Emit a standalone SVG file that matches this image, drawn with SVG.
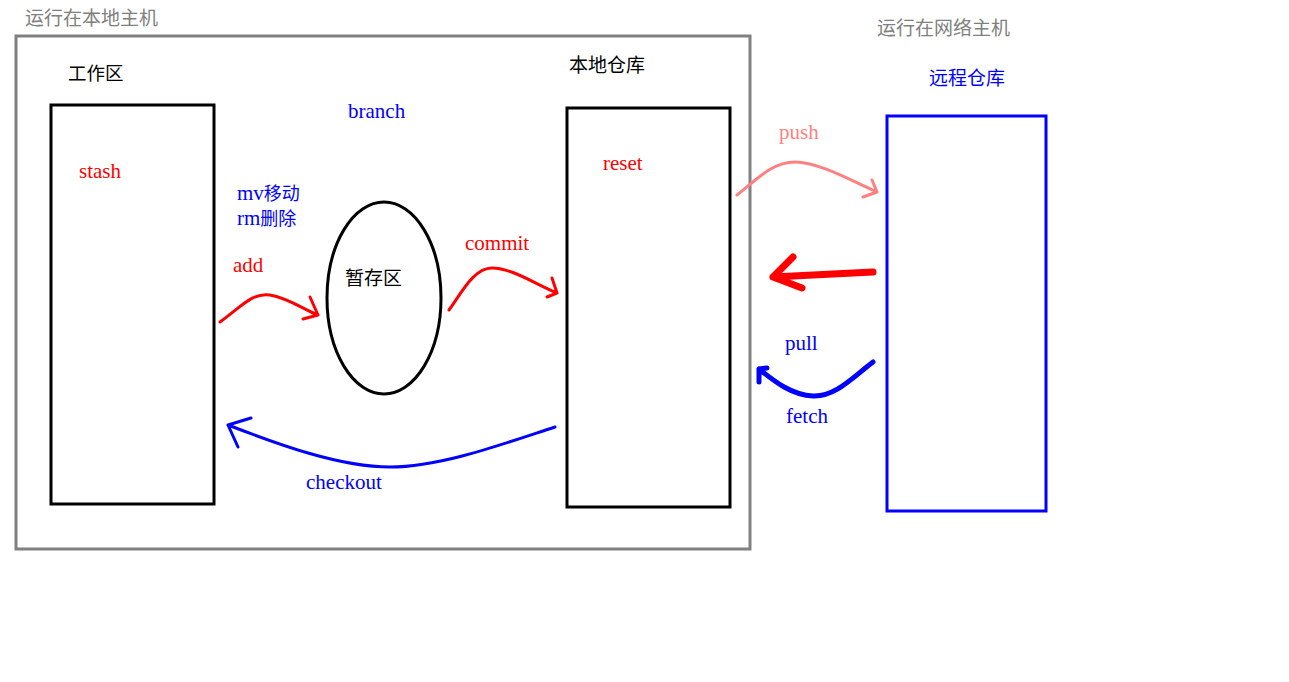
<svg xmlns="http://www.w3.org/2000/svg" width="1289" height="682" viewBox="0 0 1289 682">
<style>
.cn{font-family:"Noto Sans CJK SC","Noto Sans",sans-serif;font-size:19px}
.en{font-family:"Liberation Serif","DejaVu Serif",serif;font-size:21px}
.sm{font-size:18px}
.gray{fill:#808080}
.blk{fill:#000}
.blue{fill:#0000ff}
.red{fill:#ff0000}
.pink{fill:#ff8080}
.box{fill:none;stroke:#000;stroke-width:3}
.ln{fill:none;stroke-linecap:round;stroke-linejoin:round}
</style>
<rect width="1289" height="682" fill="#fff"/>
<g id="local-host">
<rect x="16" y="36" width="734" height="513" fill="none" stroke="#808080" stroke-width="3"/>
<text class="cn gray" x="25" y="25">运行在本地主机</text>
</g>
<g id="workspace">
<rect class="box" x="51" y="105" width="163" height="399"/>
<text class="cn blk" x="68" y="80" style="font-size:18.5px">工作区</text>
<text class="en red" x="79" y="178">stash</text>
</g>
<g id="stage">
<ellipse cx="384" cy="298" rx="57" ry="96" fill="none" stroke="#000" stroke-width="3"/>
<text class="cn blk" x="345" y="285">暂存区</text>
</g>
<g id="local-repo">
<rect class="box" x="567" y="108" width="163" height="399"/>
<text class="cn blk" x="569" y="72">本地仓库</text>
<text class="en red" x="603" y="170">reset</text>
</g>
<g id="remote-host">
<text class="cn gray" x="877" y="35">运行在网络主机</text>
</g>
<g id="remote-repo">
<rect x="887" y="116" width="159" height="395" fill="none" stroke="#0000ff" stroke-width="3"/>
<text class="cn blue" x="929" y="85">远程仓库</text>
</g>
<g id="labels">
<text class="en blue" x="348" y="118">branch</text>
<text class="en blue" x="237" y="200">mv<tspan class="cn sm">移动</tspan></text>
<text class="en blue" x="237" y="225">rm<tspan class="cn sm">删除</tspan></text>
<text class="en red" x="233" y="272">add</text>
<text class="en red" x="465" y="250">commit</text>
<text class="en pink" x="779" y="139">push</text>
<text class="en blue" x="785" y="350">pull</text>
<text class="en blue" x="786" y="423">fetch</text>
<text class="en blue" x="306" y="489">checkout</text>
</g>
<g id="connectors">
<path class="ln" d="M220,322 C240,308 252,292 270,295 C288,298 305,310 318,315 M310,297 L318,315 L303,319" stroke="#ff0000" stroke-width="3"/>
<path class="ln" d="M449,310 C462,292 474,268 492,268 C512,268 535,284 557,293 M552,278 L557,293 L547,297" stroke="#ff0000" stroke-width="3"/>
<path class="ln" d="M737,195 C756,180 772,162 795,162 C818,162 850,180 877,192 M872,180 L877,192 L863,197" stroke="#ff8080" stroke-width="3"/>
<path class="ln" d="M873,272 L773,277 M793,257 L773,277 L802,288" stroke="#ff0000" stroke-width="7"/>
<path class="ln" d="M873,362 C852,378 835,397 813,396 C792,395 775,382 759,369 M767,368 L759,369 L759,382" stroke="#0000ff" stroke-width="5"/>
<path class="ln" d="M555,427 C500,445 440,467 390,467 C340,467 280,445 228,425 M251,418 L228,425 L238,447" stroke="#0000ff" stroke-width="3"/>
</g>
</svg>
